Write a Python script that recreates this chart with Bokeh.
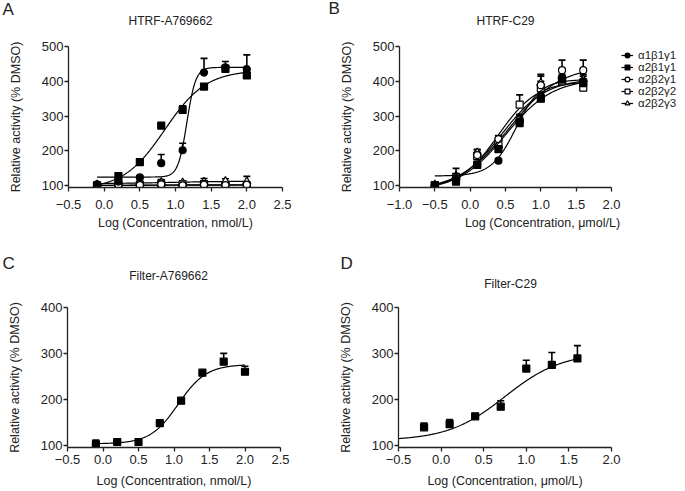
import numpy as np
from bokeh.plotting import figure
from bokeh.layouts import row, column
from bokeh.core.properties import value
from bokeh.models import (FixedTicker, CustomJSTickFormatter, Legend,
                          LegendItem, ColumnDataSource, Whisker, TeeHead, Range1d)
from bokeh.embed import file_html
from bokeh.resources import INLINE

FONT = "Liberation Sans"
INK = "#222222"

series_names = ["α1β1γ1", "α2β1γ1", "α2β2γ1", "α2β2γ2", "α2β2γ3"]

# ---------------- Panel A: HTRF-A769662 (log nmol/L) ----------------
a_x = [-0.1, 0.2, 0.5, 0.8, 1.1, 1.4, 1.7, 2.0]
a_a1b1g1 = [104, 112, 124, 165, 202, 425, 440, 435]
a_a1b1g1_err = [3, 4, 4, 25, 20, 41, 17, 41]
a_a2b1g1 = [101, 128, 168, 273, 318, 385, 436, 417]
a_a2b1g1_err = [2, 3, 4, 5, 12, 8, 10, 8]
a_a2b2g1 = [101, 103, 102, 104, 101, 103, 102, 103]
a_a2b2g1_err = [2, 2, 2, 3, 2, 3, 2, 3]
a_a2b2g2 = [100, 104, 103, 106, 104, 105, 99, 101]
a_a2b2g2_err = [2, 3, 2, 3, 2, 3, 2, 2]
a_a2b2g3 = [103, 109, 108, 110, 109, 111, 113, 112]
a_a2b2g3_err = [3, 4, 4, 8, 5, 10, 7, 15]
# 4-parameter logistic fits: bottom, top, logEC50, Hill slope
a_fit_a1b1g1 = [125, 440, 1.16, 7.0]
a_fit_a2b1g1 = [90, 432, 0.85, 1.5]
a_fit_a2b2g1 = [101, 103, 0.8, 1.0]
a_fit_a2b2g2 = [101, 102, 0.8, 1.0]
a_fit_a2b2g3 = [105, 114, 0.9, 0.8]

# ---------------- Panel B: HTRF-C29 (log µmol/L) ----------------
b_x = [-0.5, -0.2, 0.1, 0.4, 0.7, 1.0, 1.3, 1.6]
b_a1b1g1 = [102, 118, 160, 172, 285, 358, 410, 400]
b_a1b1g1_err = [2, 5, 8, 5, 10, 12, 20, 15]
b_a2b1g1 = [101, 112, 160, 205, 280, 350, 405, 395]
b_a2b1g1_err = [2, 6, 10, 8, 8, 10, 15, 12]
b_a2b2g1 = [100, 122, 188, 234, 290, 389, 432, 432]
b_a2b2g1_err = [2, 8, 15, 10, 12, 31, 29, 29]
b_a2b2g2 = [102, 125, 185, 222, 333, 380, 400, 382]
b_a2b2g2_err = [3, 10, 12, 12, 28, 20, 15, 10]
b_a2b2g3 = [103, 128, 195, 215, 290, 395, 415, 405]
b_a2b2g3_err = [3, 22, 10, 10, 15, 20, 20, 15]
b_fit_a1b1g1 = [128, 405, 0.65, 2.5]
b_fit_a2b1g1 = [85, 408, 0.5, 1.3]
b_fit_a2b2g1 = [85, 445, 0.55, 1.2]
b_fit_a2b2g2 = [92, 400, 0.4, 1.6]
b_fit_a2b2g3 = [90, 408, 0.45, 1.4]

# ---------------- Panel C: Filter-A769662 ----------------
c_x = [-0.1, 0.2, 0.5, 0.8, 1.1, 1.4, 1.7, 2.0]
c_y = [102, 107, 107, 148, 197, 258, 282, 260]
c_err = [9, 2, 2, 5, 3, 3, 18, 12]
c_fit = [103, 276, 1.06, 2.2]

# ---------------- Panel D: Filter-C29 ----------------
d_x = [-0.2, 0.1, 0.4, 0.7, 1.0, 1.3, 1.6]
d_y = [139, 146, 163, 184, 267, 275, 289]
d_err = [9, 10, 3, 13, 18, 27, 28]
d_fit = [110, 302, 0.75, 1.3]
d_fit_range = [-0.5, 1.6]

a_xticks = [-0.5, 0.0, 0.5, 1.0, 1.5, 2.0, 2.5]
b_xticks = [-1.0, -0.5, 0.0, 0.5, 1.0, 1.5, 2.0]
d_xticks = [-0.5, 0.0, 0.5, 1.0, 1.5, 2.0]
top_yticks = [100, 200, 300, 400, 500]
bottom_yticks = [100, 200, 300, 400]

panel_letters_top = ["A", "B"]
panel_titles_top = ["HTRF-A769662", "HTRF-C29"]
panel_letters_bottom = ["C", "D"]
panel_titles_bottom = ["Filter-A769662", "Filter-C29"]

MARKERS = {
    "α1β1γ1": ("circle", "black", 7),
    "α2β1γ1": ("square", "black", 7),
    "α2β2γ1": ("circle", "white", 7),
    "α2β2γ2": ("square", "white", 7),
    "α2β2γ3": ("triangle", "white", 8),
}


def logistic(xs, p):
    bottom, top, logec50, hill = p
    return bottom + (top - bottom) / (1.0 + 10.0 ** ((logec50 - xs) * hill))


def make_fig(width, height, xr, yr, bl, br, bt, bb, xticks, yticks, xlabel,
             tick_standoff, label_standoff, xbounds=None):
    p = figure(width=width, height=height, x_range=Range1d(*xr), y_range=Range1d(*yr),
               output_backend="svg", toolbar_location=None,
               min_border_left=bl, min_border_right=br, min_border_top=bt,
               min_border_bottom=bb)
    p.outline_line_color = None
    p.grid.grid_line_color = None
    p.xaxis.ticker = FixedTicker(ticks=xticks)
    p.xaxis.formatter = CustomJSTickFormatter(
        code="return (tick < 0 ? '\\u2212' : '') + Math.abs(tick).toFixed(1)")
    if xbounds is not None:
        p.xaxis.bounds = tuple(xbounds)
    p.yaxis.ticker = FixedTicker(ticks=yticks)
    for ax in (p.xaxis[0], p.yaxis[0]):
        ax.axis_line_color = INK
        ax.axis_line_width = 1.3
        ax.major_tick_line_color = INK
        ax.major_tick_line_width = 1.3
        ax.major_tick_in = 0
        ax.major_tick_out = 4
        ax.minor_tick_line_color = None
        ax.major_label_text_font = FONT
        ax.major_label_text_font_size = "13px"
        ax.major_label_text_color = INK
        ax.axis_label_text_font = FONT
        ax.axis_label_text_font_size = "12.5px"
        ax.axis_label_text_font_style = "normal"
        ax.axis_label_text_color = INK
    p.xaxis.axis_label = xlabel
    p.xaxis.major_label_standoff = tick_standoff
    p.xaxis.axis_label_standoff = label_standoff
    p.yaxis.axis_label = "Relative activity (% DMSO)"
    p.yaxis.major_label_standoff = 1
    p.yaxis.axis_label_standoff = 16
    return p


def add_series(p, xs, ys, errs, fit, name, fit_range=None):
    marker, fill, size = MARKERS[name]
    lo, hi = (min(xs), max(xs)) if fit_range is None else fit_range
    cx = np.linspace(lo, hi, 300)
    line = p.line(cx, logistic(cx, fit), line_color="black", line_width=1.2)
    src = ColumnDataSource(dict(x=xs, y=ys, upper=[v + e for v, e in zip(ys, errs)]))
    w = Whisker(source=src, base="x", lower="y", upper="upper", dimension="height",
                line_color="black", line_width=1.6, lower_head=None,
                upper_head=TeeHead(size=7, line_color="black", line_width=1.6))
    p.add_layout(w)
    sc = p.scatter("x", "y", source=src, marker=marker, size=size, fill_color=fill,
                   line_color="black", line_width=1.2)
    return line, sc


def make_header(height, letters, letter_x, letter_y, titles, title_x, title_y):
    h = figure(width=685, height=height, x_range=Range1d(0, 685), y_range=Range1d(height, 0),
               output_backend="svg", toolbar_location=None,
               x_axis_location=None, y_axis_location=None, min_border=0)
    h.outline_line_color = None
    h.grid.grid_line_color = None
    h.text(x=letter_x, y=letter_y, text=letters, text_font=value(FONT),
           text_font_size=value("17px"), text_align="left", text_baseline="middle",
           text_color=INK)
    h.text(x=title_x, y=title_y, text=titles, text_font=value(FONT),
           text_font_size=value("12px"), text_align="center", text_baseline="middle",
           text_color=INK)
    return h


# ---------- figures ----------
header1 = make_header(32, panel_letters_top, [2, 328], [9, 8],
                      panel_titles_top, [170, 505], [20, 20])
pA = make_fig(292, 213, (-0.5, 2.5), (95, 500), 68, 10, 14, 58, a_xticks, top_yticks,
              "Log (Concentration, nmol/L)", 8, 4)
# panel B's frame extends to the right edge so the legend can sit beside the curves;
# the axis itself stops at 2.0
pB = make_fig(393, 213, (-1.0, 3.047), (95, 500), 107, 0, 14, 58, b_xticks, top_yticks,
              "Log (Concentration, μmol/L)", 8, 4, xbounds=(-1.0, 2.0))
header2 = make_header(47, panel_letters_bottom, [2, 340], [18, 18],
                      panel_titles_bottom, [168, 510], [30, 38])
pC = make_fig(292, 199, (-0.5, 2.5), (95, 400), 67, 12, 15, 44, a_xticks, bottom_yticks,
              "Log (Concentration, nmol/L)", 3, 7)
pD = make_fig(393, 199, (-0.5, 2.0), (95, 400), 106, 74, 15, 44, d_xticks, bottom_yticks,
              "Log (Concentration, μmol/L)", 3, 7)

a_data = [(a_a1b1g1, a_a1b1g1_err, a_fit_a1b1g1), (a_a2b1g1, a_a2b1g1_err, a_fit_a2b1g1),
          (a_a2b2g1, a_a2b2g1_err, a_fit_a2b2g1), (a_a2b2g2, a_a2b2g2_err, a_fit_a2b2g2),
          (a_a2b2g3, a_a2b2g3_err, a_fit_a2b2g3)]
b_data = [(b_a1b1g1, b_a1b1g1_err, b_fit_a1b1g1), (b_a2b1g1, b_a2b1g1_err, b_fit_a2b1g1),
          (b_a2b2g1, b_a2b2g1_err, b_fit_a2b2g1), (b_a2b2g2, b_a2b2g2_err, b_fit_a2b2g2),
          (b_a2b2g3, b_a2b2g3_err, b_fit_a2b2g3)]

# draw the flat series first so the sigmoid ones sit on top
for idx in [4, 3, 2, 1, 0]:
    ys, es, ft = a_data[idx]
    add_series(pA, a_x, ys, es, ft, series_names[idx])

legend_items = {}
for idx in [4, 3, 2, 1, 0]:
    ys, es, ft = b_data[idx]
    ln, sc = add_series(pB, b_x, ys, es, ft, series_names[idx])
    legend_items[series_names[idx]] = [ln, sc]

add_series(pC, c_x, c_y, c_err, c_fit, "α2β1γ1")
add_series(pD, d_x, d_y, d_err, d_fit, "α2β1γ1", fit_range=d_fit_range)

legend = Legend(items=[LegendItem(label=n, renderers=legend_items[n]) for n in series_names],
                location=(222, 78), padding=0, margin=0, spacing=0,
                glyph_width=12, glyph_height=12, label_height=12, label_standoff=5,
                label_text_font=FONT, label_text_font_size="11.5px",
                label_text_color=INK, border_line_color=None,
                background_fill_alpha=0)
pB.add_layout(legend)

layout = column(header1, row(pA, pB), header2, row(pC, pD))
open("out.html", "w").write(file_html(layout, INLINE))
